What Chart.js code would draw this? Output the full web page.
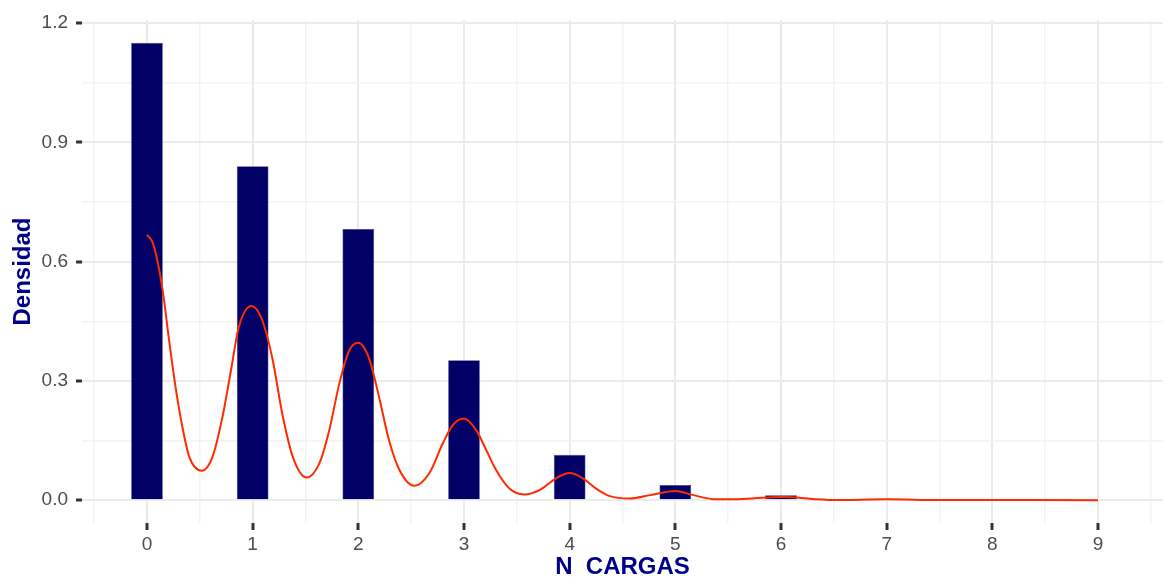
<!DOCTYPE html>
<html>
<head>
<meta charset="utf-8">
<script src="https://cdn.jsdelivr.net/npm/chart.js@4.4.1/dist/chart.umd.min.js"></script>
<style>
  html, body { margin: 0; padding: 0; background: #ffffff; }
  #wrap { width: 1165px; height: 582px; }
</style>
</head>
<body>
<div id="wrap"><canvas id="c" width="1165" height="582"></canvas></div>
<script>
// ---- data ----
const barX = [0, 1, 2, 3, 4, 5, 6];
const barDensity = [1.150, 0.840, 0.682, 0.352, 0.114, 0.038, 0.012];

const curveX = [0, 0.05, 0.1, 0.15, 0.21, 0.27, 0.335, 0.40, 0.52, 0.62, 0.715, 0.79, 0.87, 0.99,
  1.09, 1.19, 1.28, 1.38, 1.51, 1.63, 1.725, 1.82, 1.915, 2.0, 2.10, 2.20, 2.29, 2.39, 2.53,
  2.67, 2.80, 2.895, 3.0, 3.115, 3.21, 3.305, 3.43, 3.57, 3.715, 3.87, 4.0, 4.125, 4.25, 4.38,
  4.57, 4.76, 5.0, 5.17, 5.36, 5.55, 5.75, 6.0, 6.5, 7.0, 7.5, 8.0, 9.0];
const curveY = [0.667, 0.650, 0.600, 0.525, 0.40, 0.285, 0.184, 0.109, 0.074, 0.109, 0.21, 0.319, 0.436, 0.488,
  0.453, 0.352, 0.218, 0.109, 0.057, 0.092, 0.176, 0.293, 0.377, 0.396, 0.358, 0.255, 0.151, 0.075, 0.036,
  0.067, 0.143, 0.189, 0.205, 0.176, 0.126, 0.075, 0.029, 0.014, 0.025, 0.055, 0.068, 0.055, 0.029, 0.010,
  0.004, 0.0126, 0.023, 0.0126, 0.0025, 0.002, 0.005, 0.008, 0.0005, 0.002, 0.0003, 0.0002, 0.0];

const xTicks = [0, 1, 2, 3, 4, 5, 6, 7, 8, 9];
const xMinorTicks = [-0.5, 0.5, 1.5, 2.5, 3.5, 4.5, 5.5, 6.5, 7.5, 8.5, 9.5];
const yTicks = [0, 0.3, 0.6, 0.9, 1.2];
const yTickLabels = ["0.0", "0.3", "0.6", "0.9", "1.2"];
const yMinorTicks = [0.15, 0.45, 0.75, 1.05];

const xTitle = "N  CARGAS";
const yTitle = "Densidad";

// ---- build ----
const barData = barX.map((x, i) => ({ x: x, y: barDensity[i] }));
const curveData = curveX.map((x, i) => ({ x: x, y: curveY[i] }));

const isMajorX = v => xTicks.some(t => Math.abs(t - v) < 1e-9);
const isMajorY = v => yTicks.some(t => Math.abs(t - v) < 1e-9);
const tv = ctx => (ctx && ctx.tick) ? ctx.tick.value : NaN;

const tickFont = { family: "'Liberation Sans', Arial, sans-serif", size: 19 };
const titleFont = { family: "'Liberation Sans', Arial, sans-serif", size: 24, weight: 'bold', lineHeight: 1.2 };

new Chart(document.getElementById('c'), {
  type: 'bar',
  data: {
    datasets: [
      {
        type: 'line',
        data: curveData,
        borderColor: '#ff2a00',
        borderWidth: 2,
        pointRadius: 0,
        fill: false,
        cubicInterpolationMode: 'monotone',
        order: 0
      },
      {
        type: 'bar',
        data: barData,
        backgroundColor: '#000066',
        borderColor: '#3a3a88',
        borderWidth: 0.6,
        categoryPercentage: 1.0,
        barPercentage: 0.6,
        order: 1
      }
    ]
  },
  options: {
    responsive: false,
    animation: false,
    devicePixelRatio: 1,
    layout: { padding: { top: 20, right: 2, left: 0, bottom: 0 } },
    plugins: { legend: { display: false }, tooltip: { enabled: false } },
    scales: {
      x: {
        type: 'linear',
        offset: false,
        min: -0.615,
        max: 9.615,
        afterBuildTicks: s => {
          s.ticks = xTicks.concat(xMinorTicks).sort((a, b) => a - b).map(v => ({ value: v }));
        },
        afterFit: s => { s.height = 59; },
        ticks: {
          autoSkip: false,
          maxRotation: 0,
          includeBounds: false,
          padding: 3,
          color: '#4d4d4d',
          font: tickFont,
          callback: v => isMajorX(v) ? String(Math.round(v)) : ''
        },
        grid: {
          offset: false,
          drawTicks: true,
          tickLength: 7,
          color: ctx => isMajorX(tv(ctx)) ? '#ebebeb' : '#f3f3f3',
          lineWidth: ctx => isMajorX(tv(ctx)) ? 2 : 1.4,
          tickColor: ctx => isMajorX(tv(ctx)) ? '#333333' : 'rgba(0,0,0,0)',
          tickWidth: 3
        },
        border: { display: false },
        title: {
          display: true,
          text: xTitle,
          color: '#00008b',
          font: titleFont,
          padding: { top: 0, bottom: 0 }
        }
      },
      y: {
        type: 'linear',
        min: -0.0575,
        max: 1.2075,
        afterBuildTicks: s => {
          s.ticks = yTicks.concat(yMinorTicks).sort((a, b) => a - b).map(v => ({ value: v }));
        },
        afterFit: s => { s.width = 82; },
        ticks: {
          autoSkip: false,
          padding: 8,
          color: '#4d4d4d',
          font: tickFont,
          callback: v => {
            const i = yTicks.findIndex(t => Math.abs(t - v) < 1e-9);
            return i >= 0 ? yTickLabels[i] : '';
          }
        },
        grid: {
          drawTicks: true,
          tickLength: 6,
          color: ctx => isMajorY(tv(ctx)) ? '#ebebeb' : '#f3f3f3',
          lineWidth: ctx => isMajorY(tv(ctx)) ? 2 : 1.4,
          tickColor: ctx => isMajorY(tv(ctx)) ? '#333333' : 'rgba(0,0,0,0)',
          tickWidth: 3
        },
        border: { display: false },
        title: {
          display: true,
          text: yTitle,
          color: '#00008b',
          font: titleFont,
          padding: { top: 9, bottom: 0 }
        }
      }
    }
  }
});
</script>
</body>
</html>
